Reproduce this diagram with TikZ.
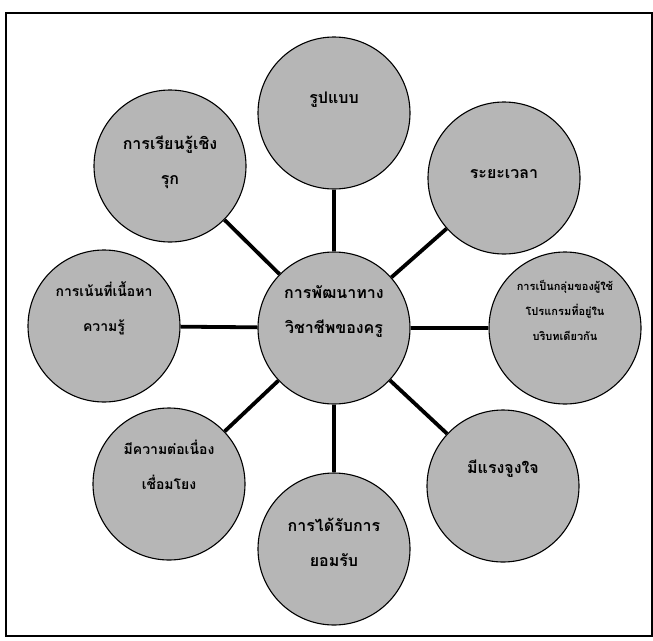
\documentclass[tikz,border=0pt]{standalone}
\usepackage{fontspec}
\newfontfamily\thaifont[Script=Thai]{Loma}
\usepackage{xcolor}
\definecolor{bubblegray}{RGB}{182,182,182}
% text sits a little above the middle of each bubble
\newcommand{\lifted}[2][15pt]{\raisebox{#1}[0pt][0pt]{\begin{tabular}{@{}c@{}}#2\end{tabular}}}

\begin{document}
\begin{tikzpicture}[x=1pt,y=-1pt,
    bubble/.style={circle,draw,line width=1.1pt,fill=bubblegray,minimum size=152pt,inner sep=0pt,
      font=\thaifont\bfseries\fontsize{16}{35}\selectfont},
    midtext/.style={font=\thaifont\bfseries\fontsize{14}{35}\selectfont},
    smalltext/.style={font=\thaifont\bfseries\fontsize{11}{25}\selectfont},
    spoke/.style={line width=3.8pt}]
  \useasboundingbox (0,0) rectangle (653,640);
  \draw[line width=1.2pt] (6,13) rectangle (652,636);
  % centre and the eight outer bubbles
  \node[bubble] (core) at (334,328) {\lifted{การพัฒนาทาง\\วิชาชีพของครู}};
  \node[bubble] (form) at (334,113) {\lifted[12pt]{รูปแบบ}};
  \node[bubble] (active) at (170,166) {\lifted[2pt]{การเรียนรู้เชิง\\รุก}};
  \node[bubble] (time) at (504,178) {\lifted[2pt]{ระยะเวลา}};
  \node[bubble,smalltext] (group) at (565,328) {\lifted[15pt]{การเป็นกลุ่มของผู้ใช้\\โปรแกรมที่อยู่ใน\\บริบทเดียวกัน}};
  \node[bubble] (motive) at (503,486) {\lifted{มีแรงจูงใจ}};
  \node[bubble] (accept) at (334,549) {\lifted[3pt]{การได้รับการ\\ยอมรับ}};
  \node[bubble,midtext] (link) at (169,484) {\lifted{มีความต่อเนื่อง\\เชื่อมโยง}};
  \node[bubble,midtext] (content) at (104,326) {\lifted{การเน้นที่เนื้อหา\\ความรู้}};
  \foreach \n in {form,active,time,group,motive,accept,link,content}
    \draw[spoke] (core) -- (\n);
\end{tikzpicture}
\end{document}
